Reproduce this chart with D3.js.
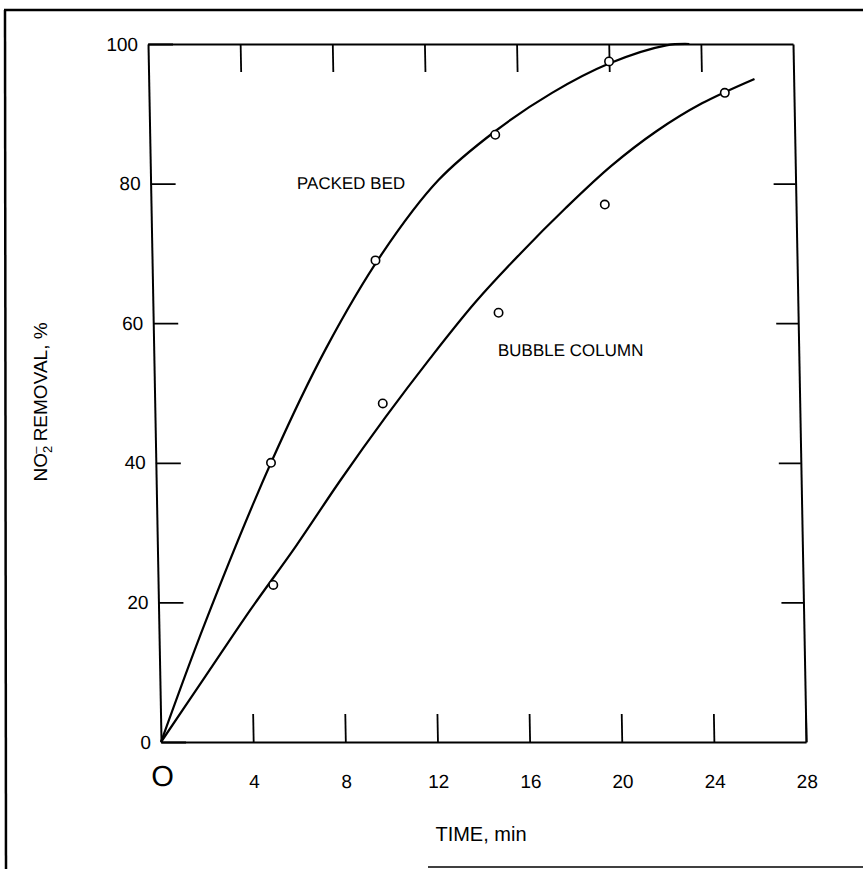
<!DOCTYPE html>
<html>
<head>
<meta charset="utf-8">
<script src="https://cdn.jsdelivr.net/npm/d3@7"></script>
<style>
  body { margin: 0; background: #fff; }
  svg { display: block; font-family: "Liberation Sans", Arial, sans-serif; }
</style>
</head>
<body>
<svg id="chart" width="863" height="869"></svg>
<script>
// measured points (time in min, removal in %)
const packedTime = [5, 9.7, 15, 20];
const packedRemoval = [40, 69, 87, 97.5];
const bubbleTime = [5, 9.9, 15, 19.7, 25];
const bubbleRemoval = [22.5, 48.5, 61.5, 77, 93];

// fitted curves
const packedCurveTime = [0, 2, 5, 7.5, 10, 12.5, 15, 17.5, 20, 22.5, 23.5];
const packedCurveRemoval = [0, 17, 40, 56.5, 70, 80.5, 87.5, 93, 97.2, 99.8, 100];
const bubbleCurveTime = [0, 2, 4, 6, 8, 10, 12, 14, 16, 18, 20, 22, 24, 26.3];
const bubbleCurveRemoval = [0, 9.5, 19, 28, 37.5, 46.5, 55, 63, 70, 76.5, 82.5, 87.5, 91.5, 95];

const xTicks = [4, 8, 12, 16, 20, 24, 28];
const yTicks = [0, 20, 40, 60, 80, 100];

const svg = d3.select("#chart");
const width = +svg.attr("width");
const height = +svg.attr("height");

// outer frame (partial, like the scanned page)
svg.append("line")
    .attr("x1", 4).attr("y1", 10).attr("x2", width).attr("y2", 10)
    .attr("stroke", "#000").attr("stroke-width", 2.5);
svg.append("line")
    .attr("x1", 5).attr("y1", 10).attr("x2", 6).attr("y2", height)
    .attr("stroke", "#000").attr("stroke-width", 2.5);
svg.append("line")
    .attr("x1", 428).attr("y1", 867).attr("x2", width).attr("y2", 867)
    .attr("stroke", "#000").attr("stroke-width", 1.5);

const plotWidth = 645;
const plotHeight = 698;

// the scan is slightly skewed, the left axis leans to the left at the top
const g = svg.append("g")
    .attr("transform", "translate(148, 44) skewX(1.07)");

const xScale = d3.scaleLinear().domain([0, 28]).range([0, plotWidth]);
const yScale = d3.scaleLinear().domain([0, 100]).range([plotHeight, 0]);

function styleAxis(sel) {
    sel.select(".domain").attr("stroke", "#000").attr("stroke-width", 2);
    sel.selectAll(".tick line").attr("stroke", "#000").attr("stroke-width", 1.8);
    sel.selectAll("text")
        .attr("fill", "#000")
        .style("font-family", "'Liberation Sans', Arial, sans-serif")
        .style("font-size", "19px");
}

g.append("g")
    .attr("transform", `translate(0, ${plotHeight})`)
    .call(d3.axisBottom(xScale).tickValues(xTicks).tickSizeInner(-28).tickSizeOuter(0).tickPadding(33))
    .call(styleAxis);

g.append("g")
    .call(d3.axisTop(xScale).tickValues(xTicks.slice(0, -1)).tickSizeInner(-28).tickSizeOuter(0).tickFormat(""))
    .call(styleAxis);

g.append("g")
    .call(d3.axisLeft(yScale).tickValues(yTicks).tickSizeInner(-25).tickSizeOuter(0).tickPadding(10))
    .call(styleAxis);

g.append("g")
    .attr("transform", `translate(${plotWidth}, 0)`)
    .call(d3.axisRight(yScale).tickValues(yTicks.slice(1, -1)).tickSizeInner(-22).tickSizeOuter(0).tickFormat(""))
    .call(styleAxis);

// big hand-lettered zero at the origin
g.append("text")
    .attr("x", xScale(0) + 1)
    .attr("y", plotHeight + 44)
    .attr("text-anchor", "middle")
    .style("font-size", "29px")
    .text("O");

const line = d3.line()
    .x(d => xScale(d[0]))
    .y(d => yScale(d[1]))
    .curve(d3.curveCatmullRom.alpha(0.5));

const packedCurve = packedCurveTime.map((t, i) => [t, packedCurveRemoval[i]]);
const bubbleCurve = bubbleCurveTime.map((t, i) => [t, bubbleCurveRemoval[i]]);

[packedCurve, bubbleCurve].forEach(c => {
    g.append("path")
        .attr("d", line(c))
        .attr("fill", "none")
        .attr("stroke", "#000")
        .attr("stroke-width", 2.2);
});

const points = packedTime.map((t, i) => [t, packedRemoval[i]])
    .concat(bubbleTime.map((t, i) => [t, bubbleRemoval[i]]));

g.selectAll("circle.pt")
    .data(points)
    .enter()
    .append("circle")
    .attr("class", "pt")
    .attr("cx", d => xScale(d[0]))
    .attr("cy", d => yScale(d[1]))
    .attr("r", 4.2)
    .attr("fill", "#fff")
    .attr("stroke", "#000")
    .attr("stroke-width", 1.6);

// curve labels
g.append("text")
    .attr("x", xScale(6.35))
    .attr("y", yScale(79.2))
    .style("font-size", "17px")
    .text("PACKED BED");

g.append("text")
    .attr("x", xScale(14.94))
    .attr("y", yScale(55.3))
    .style("font-size", "17px")
    .text("BUBBLE COLUMN");

// axis titles
svg.append("text")
    .attr("x", 481)
    .attr("y", 841)
    .attr("text-anchor", "middle")
    .style("font-size", "20px")
    .text("TIME, min");

const yTitle = svg.append("text")
    .attr("transform", "translate(47, 402) rotate(-90)")
    .attr("text-anchor", "middle")
    .style("font-size", "19px");
yTitle.append("tspan").text("NO");
yTitle.append("tspan").attr("dy", 5).style("font-size", "13px").text("2");
yTitle.append("tspan").attr("dy", -12).attr("dx", -8).style("font-size", "13px").text("\u2013");
yTitle.append("tspan").attr("dy", 7).text(" REMOVAL, %");
</script>
</body>
</html>
